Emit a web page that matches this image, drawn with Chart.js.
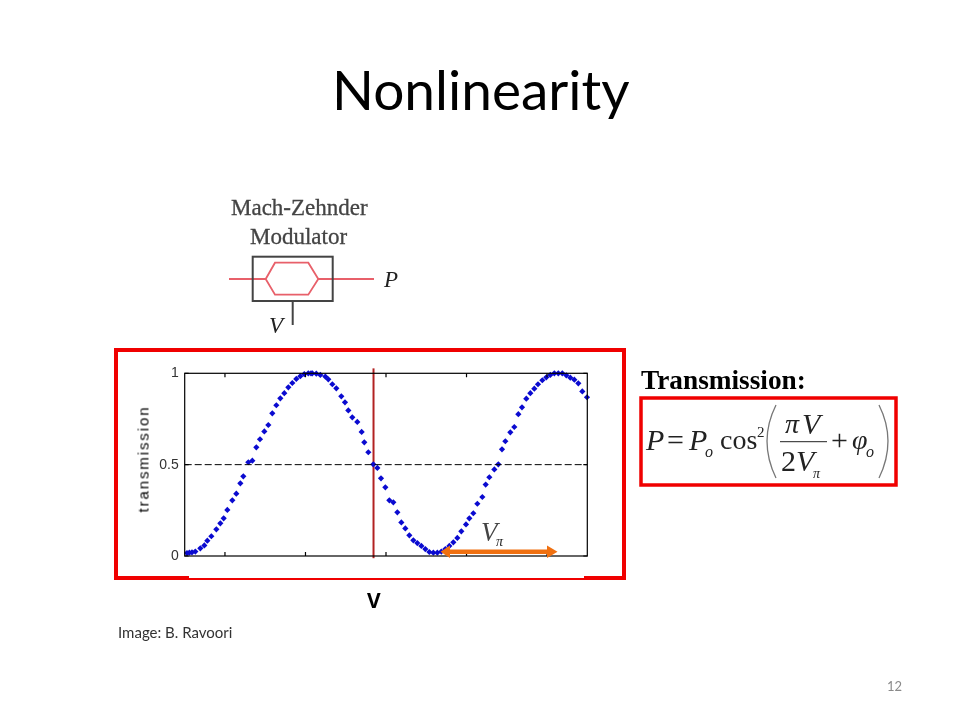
<!DOCTYPE html>
<html>
<head>
<meta charset="utf-8">
<title>Nonlinearity</title>
<script src="https://cdn.jsdelivr.net/npm/chart.js@4"></script>
<style>
  body { margin: 0; background: #fff; }
  #slide { position: relative; width: 960px; height: 720px; overflow: hidden; }
  #slide canvas { position: absolute; left: 0; top: 0; }
  .t { position: absolute; white-space: nowrap; line-height: 1; color: #000; }
  .serif { font-family: "Liberation Serif", serif; }
  .it { font-family: "Liberation Serif", serif; font-style: italic; color: #222; }
  .sans { font-family: Lato, "Open Sans", sans-serif; }
  .open { font-family: "Open Sans", sans-serif; }
</style>
</head>
<body>
<div id="slide">
  <canvas id="chart" width="960" height="720"></canvas>

  <div class="t sans" style="left:332px;top:62px;font-size:55px;">Nonlinearity</div>
  <div class="t open" style="left:367px;top:590px;font-size:21px;font-weight:bold;">V</div>
  <div class="t sans" style="left:118px;top:625px;font-size:15px;color:#333;">Image: B. Ravoori</div>
  <div class="t sans" style="left:887px;top:680px;font-size:13px;color:#8a8a8a;">12</div>

  <div class="t" style="left:92px;top:453px;width:102px;text-align:center;font:15px 'Liberation Sans';letter-spacing:1.9px;color:#000;transform:rotate(-90deg);">transmission</div>

  <div class="t serif" style="left:231px;top:196px;font-size:23px;color:#444;-webkit-text-stroke:0.3px #444;">Mach-Zehnder</div>
  <div class="t serif" style="left:250px;top:225px;font-size:23px;color:#444;-webkit-text-stroke:0.3px #444;">Modulator</div>
  <div class="t it" style="left:384px;top:268px;font-size:23px;">P</div>
  <div class="t it" style="left:269px;top:314px;font-size:23px;">V</div>

  <div class="t it" style="left:481px;top:519px;font-size:27px;color:#444;">V</div>
  <div class="t it" style="left:496px;top:535px;font-size:14px;">π</div>

  <div class="t serif" style="left:641px;top:367px;font-size:27.3px;font-weight:bold;">Transmission:</div>

  <div class="t it" style="left:646px;top:425px;font-size:30px;">P</div>
  <div class="t serif" style="left:667px;top:425px;font-size:30px;color:#222;">=</div>
  <div class="t it" style="left:689px;top:425px;font-size:30px;">P</div>
  <div class="t it" style="left:705px;top:444px;font-size:16px;">o</div>
  <div class="t serif" style="left:720px;top:426px;font-size:28px;color:#222;">cos</div>
  <div class="t serif" style="left:757px;top:425px;font-size:15px;color:#222;">2</div>
  <div class="t it" style="left:785px;top:410px;font-size:28px;">π</div>
  <div class="t it" style="left:802px;top:409px;font-size:30px;">V</div>
  <div class="t serif" style="left:781px;top:446px;font-size:30px;color:#222;">2</div>
  <div class="t it" style="left:796px;top:446px;font-size:30px;">V</div>
  <div class="t it" style="left:813px;top:467px;font-size:14px;">π</div>
  <div class="t serif" style="left:831px;top:425px;font-size:30px;color:#222;">+</div>
  <div class="t it" style="left:852px;top:426px;font-size:28px;">φ</div>
  <div class="t it" style="left:866px;top:444px;font-size:16px;">o</div>
</div>

<script>
// transmission curve
const xValues = [
  0.57, 1.15, 1.81, 2.64, 3.88, 4.88, 5.62, 6.62, 7.86, 8.85,
  9.68, 10.59, 11.83, 12.82, 13.82, 14.56, 15.80, 16.80, 17.79, 18.70,
  19.78, 20.77, 21.76, 22.76, 23.75, 24.74, 25.74, 26.73, 27.72, 28.72,
  29.71, 30.70, 31.37, 31.70, 32.69, 33.69, 34.93, 35.67, 36.67, 37.66,
  38.90, 39.81, 40.64, 41.63, 42.87, 43.95, 44.61, 45.61, 46.85, 47.85,
  48.76, 49.84, 50.83, 51.82, 52.82, 53.81, 54.80, 55.80, 56.79, 57.78,
  58.78, 59.77, 60.76, 61.76, 62.75, 63.75, 64.74, 65.73, 66.73, 67.72,
  68.71, 69.87, 70.70, 71.69, 72.69, 73.93, 74.76, 75.67, 76.91, 77.90,
  78.81, 79.64, 80.88, 81.87, 82.87, 83.78, 84.85, 85.85, 86.84, 87.75,
  88.83, 89.82, 90.81, 91.81, 92.80, 93.79, 94.79, 95.78, 96.78, 97.77,
  98.76, 99.92
];
const transmission = [
  0.016, 0.018, 0.020, 0.024, 0.042, 0.058, 0.084, 0.108, 0.146, 0.179,
  0.206, 0.252, 0.305, 0.341, 0.398, 0.436, 0.513, 0.522, 0.595, 0.639,
  0.682, 0.717, 0.781, 0.825, 0.863, 0.891, 0.923, 0.947, 0.969, 0.984,
  0.996, 1.000, 1.000, 1.000, 0.998, 0.991, 0.982, 0.967, 0.940, 0.918,
  0.874, 0.841, 0.797, 0.759, 0.734, 0.679, 0.622, 0.568, 0.502, 0.482,
  0.425, 0.376, 0.305, 0.294, 0.239, 0.184, 0.151, 0.113, 0.086, 0.071,
  0.055, 0.038, 0.022, 0.018, 0.018, 0.024, 0.038, 0.055, 0.075, 0.099,
  0.135, 0.173, 0.206, 0.234, 0.286, 0.323, 0.391, 0.431, 0.474, 0.502,
  0.584, 0.628, 0.677, 0.706, 0.776, 0.814, 0.861, 0.891, 0.916, 0.940,
  0.962, 0.978, 0.991, 1.000, 1.000, 1.000, 0.989, 0.976, 0.965, 0.945,
  0.901, 0.869
];
const xTickValues = [10, 30, 50, 70, 90];
const yTickValues = [0, 0.5, 1];
const yTickLabels = ['0', '0.5', '1'];
const halfLevel = 0.5;
const xRange = [0, 100];
const biasX = 46.9;
const biasY = [-0.012, 1.027];

// inward ticks + box like matlab, has to go on top of the plot area
const axesBox = {
  id: 'axesBox',
  afterDatasetsDraw(chart) {
    const c = chart.ctx;
    const a = chart.chartArea;
    c.save();
    c.strokeStyle = '#000';
    c.lineWidth = 1.2;
    c.strokeRect(a.left, a.top, a.right - a.left, a.bottom - a.top);
    c.beginPath();
    chart.scales.x.ticks.forEach((t) => {
      const px = chart.scales.x.getPixelForValue(t.value);
      c.moveTo(px, a.bottom); c.lineTo(px, a.bottom - 4);
      c.moveTo(px, a.top); c.lineTo(px, a.top + 4);
    });
    chart.scales.y.ticks.forEach((t) => {
      const py = chart.scales.y.getPixelForValue(t.value);
      c.moveTo(a.left, py); c.lineTo(a.left + 4, py);
      c.moveTo(a.right, py); c.lineTo(a.right - 4, py);
    });
    c.stroke();
    c.restore();
  }
};

// slide decoration: red frames, modulator sketch, arrow, brackets
const slideArt = {
  id: 'slideArt',
  afterDraw(chart) {
    const c = chart.ctx;
    c.save();

    // frame round the plot
    c.fillStyle = '#f00000';
    c.fillRect(114, 348, 512, 4);
    c.fillRect(114, 348, 4, 232);
    c.fillRect(622, 348, 4, 232);
    c.fillRect(114, 576, 75, 4);
    c.fillRect(584, 576, 42, 4);
    c.fillRect(189, 578, 395, 2);

    // frame round the formula
    c.strokeStyle = '#f00000';
    c.lineWidth = 3.5;
    c.strokeRect(641, 398, 255, 87);

    // modulator
    c.strokeStyle = '#e8606a';
    c.lineWidth = 1.8;
    c.beginPath();
    c.moveTo(229, 279); c.lineTo(265.7, 279);
    c.lineTo(275, 262.7); c.lineTo(308.3, 262.7); c.lineTo(318.3, 279);
    c.lineTo(308.3, 294.7); c.lineTo(275, 294.7); c.lineTo(265.7, 279);
    c.moveTo(318.3, 279); c.lineTo(374, 279);
    c.stroke();
    c.strokeStyle = '#444';
    c.lineWidth = 2;
    c.strokeRect(252.7, 256.7, 80, 44.3);
    c.beginPath();
    c.moveTo(292.7, 301); c.lineTo(292.7, 325);
    c.stroke();

    // V_pi arrow
    c.strokeStyle = '#f07010';
    c.fillStyle = '#f07010';
    c.lineWidth = 4.5;
    c.beginPath();
    c.moveTo(448, 551.7); c.lineTo(550, 551.7);
    c.stroke();
    c.beginPath();
    c.moveTo(440.5, 551.7); c.lineTo(450, 545.5); c.lineTo(450, 558); c.closePath();
    c.moveTo(557.5, 551.7); c.lineTo(547, 545.5); c.lineTo(547, 558); c.closePath();
    c.fill();

    // fraction bar and big brackets
    c.strokeStyle = '#222';
    c.lineWidth = 1;
    c.beginPath();
    c.moveTo(780, 441.7); c.lineTo(827, 441.7);
    c.stroke();
    c.strokeStyle = '#777';
    c.lineWidth = 1.3;
    c.beginPath();
    c.moveTo(776, 405); c.quadraticCurveTo(758, 441, 776, 478);
    c.moveTo(879, 405); c.quadraticCurveTo(897, 441, 879, 478);
    c.stroke();
    c.restore();
  }
};

const points = xValues.map((x, i) => ({x: x, y: transmission[i]}));

const ctx = document.getElementById('chart');
const myChart = new Chart(ctx, {
  type: 'scatter',
  data: {
    datasets: [
      {
        data: [{x: xRange[0], y: halfLevel}, {x: xRange[1], y: halfLevel}],
        showLine: true,
        borderColor: '#000',
        borderWidth: 1,
        borderDash: [7, 3],
        pointRadius: 0,
      },
      {
        data: points,
        pointStyle: 'rectRot',
        pointRadius: 3.1,
        backgroundColor: '#0a0ad0',
        borderWidth: 0,
        clip: false,
      },
      {
        data: [{x: biasX, y: biasY[0]}, {x: biasX, y: biasY[1]}],
        showLine: true,
        borderColor: '#b22222',
        borderWidth: 2,
        pointRadius: 0,
        clip: false,
      },
    ]
  },
  options: {
    responsive: false,
    animation: false,
    layout: {
      padding: {left: 136, right: 372.7, top: 373.3, bottom: 164}
    },
    plugins: {
      legend: { display: false },
      tooltip: { enabled: false },
    },
    scales: {
      x: {
        type: 'linear',
        min: xRange[0],
        max: xRange[1],
        grid: { display: false },
        border: { display: false },
        ticks: { display: false },
        afterBuildTicks: (scale) => { scale.ticks = xTickValues.map((v) => ({value: v})); },
        afterFit: (scale) => { scale.height = 0; },
      },
      y: {
        min: yTickValues[0],
        max: yTickValues[2],
        grid: { display: false, drawTicks: false },
        border: { display: false },
        ticks: {
          padding: 6,
          color: '#333',
          font: { family: 'Liberation Sans', size: 14 },
          callback: (value) => yTickLabels[yTickValues.indexOf(value)],
        },
        afterBuildTicks: (scale) => { scale.ticks = yTickValues.map((v) => ({value: v})); },
        afterFit: (scale) => { scale.width = 48.7; },
      }
    }
  },
  plugins: [axesBox, slideArt]
});
</script>
</body>
</html>
